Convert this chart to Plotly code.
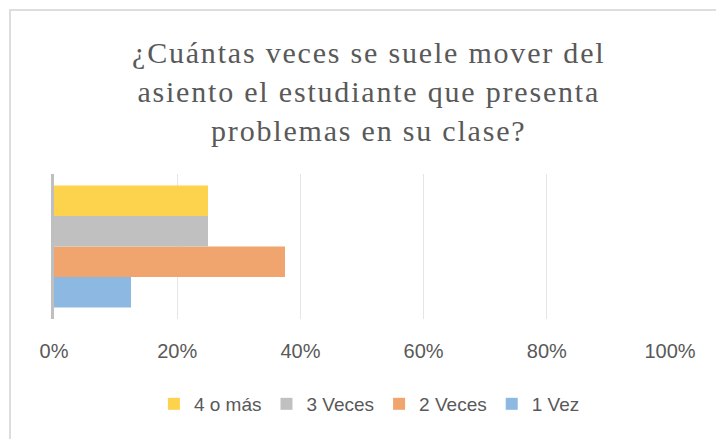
import plotly.graph_objects as go

categories = [""]
series_names = ["1 Vez", "2 Veces", "3 Veces", "4 o más"]
series_values = [[0.125], [0.375], [0.25], [0.25]]
series_colors = ["#8DB8E2", "#F0A46E", "#C0C0C0", "#FDD24C"]
tick_vals = [0, 0.2, 0.4, 0.6, 0.8, 1.0]
tick_text = ["0%", "20%", "40%", "60%", "80%", "100%"]
title_text = "¿Cuántas veces se suele mover del<br>asiento el estudiante que presenta<br>problemas en su clase?"

fig = go.Figure()
for name, vals, col in zip(series_names, series_values, series_colors):
    fig.add_trace(go.Bar(
        y=categories, x=vals, name=name, orientation="h",
        marker=dict(color=col, line=dict(width=0)),
    ))

fig.update_layout(
    width=716, height=439,
    paper_bgcolor="white", plot_bgcolor="white",
    barmode="group", bargap=0.16, bargroupgap=0,
    margin=dict(l=54, r=46, t=174, b=120),
    title=dict(text=title_text, x=0.515, xanchor="center", y=0.856, yanchor="top",
               font=dict(family="Liberation Serif", size=30, color="#595959")),
    legend=dict(orientation="h", traceorder="reversed", x=0.512, xanchor="center",
                y=-0.586, yanchor="middle",
                font=dict(family="Liberation Sans", size=19, color="#595959"),
                itemwidth=30),
    xaxis=dict(range=[0, 1.0], tickvals=tick_vals, ticktext=tick_text,
               showgrid=True, gridcolor="#E5E5E5", gridwidth=1, zeroline=False,
               ticks="", ticklabelstandoff=18,
               tickfont=dict(family="Liberation Sans", size=20, color="#595959")),
    yaxis=dict(showline=True, linecolor="#BFBFBF", linewidth=3, showticklabels=False,
               ticks="", showgrid=False),
    shapes=[dict(type="rect", xref="paper", yref="paper",
                 x0=(10 - 54) / 616, x1=(722 - 54) / 616,
                 y0=-(445 - 319) / 145, y1=1 + (174 - 10) / 145,
                 line=dict(color="#DDDDDD", width=2))],
)

post = """
document.body.style.margin = '0';
var t = document.querySelector('.gtitle');
if (t) { t.style.letterSpacing = '1.8px'; }
"""
fig.write_html("out.html", post_script=post, config={"displayModeBar": False})
